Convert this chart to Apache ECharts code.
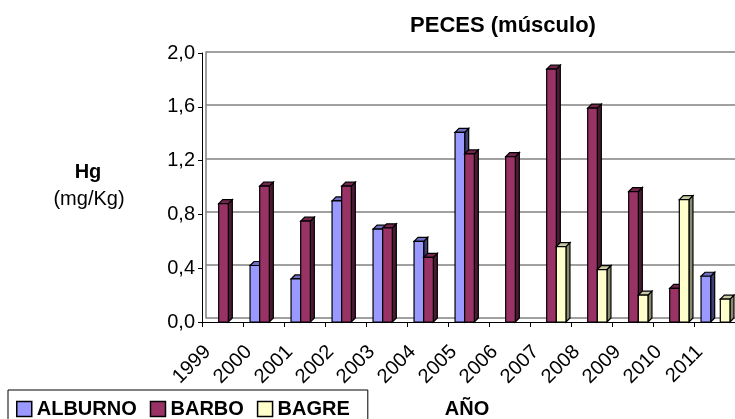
<!DOCTYPE html>
<html>
<head>
<meta charset="utf-8">
<script src="https://cdn.jsdelivr.net/npm/echarts@6/dist/echarts.min.js"></script>
<style>
  html, body { margin: 0; padding: 0; background: #fff; }
  #chart { width: 735px; height: 419px; }
</style>
</head>
<body>
<div id="chart"></div>
<script>
// data
var years = ['1999', '2000', '2001', '2002', '2003', '2004', '2005', '2006', '2007', '2008', '2009', '2010', '2011']
var alburno = [null, 0.42, 0.32, 0.90, 0.69, 0.60, 1.41, null, null, null, null, null, 0.34]
var barbo = [0.88, 1.01, 0.75, 1.01, 0.70, 0.48, 1.25, 1.23, 1.88, 1.59, 0.97, 0.25, null]
var bagre = [null, null, null, null, null, null, null, null, 0.56, 0.39, 0.20, 0.91, 0.17]
var yTicks = [0, 0.4, 0.8, 1.2, 1.6, 2.0]

var font = 'Liberation Sans, Arial, sans-serif'
var fronts = ['#9999ff', '#993366', '#ffffcc']
var sides = ['#3f3f75', '#4a1a33', '#8a8a6e']
var tops = ['#6f6fc4', '#74264d', '#c9c9a2']
var depth = 4

function toPairs(arr) {
  return arr.map(function (v, i) { return [i, v] })
}

// fake 3D bar: side face, top face, then the front
function makeRender(k) {
  return function (params, api) {
    var v = api.value(1)
    if (v == null || isNaN(v)) return
    var base = api.coord([api.value(0), 0])
    var top = api.coord([api.value(0), v])
    var cw = api.size([1, 0])[0]
    var bw = cw * 0.235
    var x0 = base[0] + (k - 1) * bw - bw / 2 + 1
    var yb = base[1], yt = top[1]
    var line = { stroke: '#000', lineWidth: 1.2 }
    return {
      type: 'group',
      children: [
        { type: 'polygon', shape: { points: [[x0 + bw, yt], [x0 + bw + depth, yt - depth], [x0 + bw + depth, yb - depth], [x0 + bw, yb]] },
          style: Object.assign({ fill: sides[k] }, line) },
        { type: 'polygon', shape: { points: [[x0, yt], [x0 + depth, yt - depth], [x0 + bw + depth, yt - depth], [x0 + bw, yt]] },
          style: Object.assign({ fill: tops[k] }, line) },
        { type: 'rect', shape: { x: x0, y: yt, width: bw, height: yb - yt },
          style: Object.assign({ fill: fronts[k] }, line) }
      ]
    }
  }
}

var chart = echarts.init(document.getElementById('chart'))

chart.setOption({
  animation: false,
  textStyle: { fontFamily: font },
  graphic: [
    { type: 'text', x: 503, y: 26, style: { text: 'PECES (músculo)', font: 'bold 22px ' + font, fill: '#000', align: 'center', verticalAlign: 'middle' } },
    { type: 'text', x: 88, y: 172, style: { text: 'Hg', font: 'bold 20px ' + font, fill: '#000', align: 'center', verticalAlign: 'middle' } },
    { type: 'text', x: 89, y: 199, style: { text: '(mg/Kg)', font: '20px ' + font, fill: '#000', align: 'center', verticalAlign: 'middle' } },
    { type: 'text', x: 467, y: 409, style: { text: 'AÑO', font: 'bold 20px ' + font, fill: '#000', align: 'center', verticalAlign: 'middle' } }
  ],
  legend: {
    left: 8,
    top: 390,
    padding: [9, 18, 10, 8],
    itemGap: 13,
    itemWidth: 15,
    itemHeight: 15,
    icon: 'rect',
    borderColor: '#000',
    borderWidth: 1,
    itemStyle: { borderColor: '#000', borderWidth: 1.5 },
    textStyle: { fontFamily: font, fontSize: 20, fontWeight: 'bold', color: '#000' },
    data: ['ALBURNO', 'BARBO', 'BAGRE']
  },
  grid: [
    { left: 202, top: 53, width: 533, bottom: 97 },
    { left: 206, top: 52, width: 533, bottom: 101 }
  ],
  xAxis: [
    {
      type: 'category',
      gridIndex: 0,
      data: years,
      axisLine: { lineStyle: { color: '#000', width: 1 } },
      axisTick: { show: true, length: 5, lineStyle: { color: '#000' } },
      axisLabel: { rotate: 45, margin: 12, padding: [0, 21, 0, 0], color: '#000', fontSize: 20, fontFamily: font, interval: 0 }
    },
    {
      type: 'category',
      gridIndex: 1,
      data: years,
      axisLine: { show: false },
      axisTick: { show: false },
      axisLabel: { show: false }
    }
  ],
  yAxis: [
    {
      type: 'value',
      gridIndex: 0,
      min: 0,
      max: 2,
      interval: 0.4,
      axisLine: { show: true, lineStyle: { color: '#000' } },
      axisTick: { show: true, length: 4, lineStyle: { color: '#000' } },
      splitLine: { show: false },
      axisLabel: {
        color: '#000', fontSize: 20, fontFamily: font, margin: 7,
        formatter: function (v) { return yTicks.indexOf(v) >= 0 ? v.toFixed(1).replace('.', ',') : '' }
      }
    },
    {
      // back wall of the 3D box
      type: 'value',
      gridIndex: 1,
      min: 0,
      max: 2,
      interval: 0.4,
      axisLine: { show: true, lineStyle: { color: '#808080', width: 1.5 } },
      axisTick: { show: false },
      axisLabel: { show: false },
      splitLine: { show: true, lineStyle: { color: '#808080', width: 1.5 } }
    }
  ],
  series: [
    { name: 'ALBURNO', type: 'custom', xAxisIndex: 0, yAxisIndex: 0, itemStyle: { color: fronts[0] },
      renderItem: makeRender(0), encode: { x: 0, y: 1 }, data: toPairs(alburno) },
    { name: 'BARBO', type: 'custom', xAxisIndex: 0, yAxisIndex: 0, itemStyle: { color: fronts[1] },
      renderItem: makeRender(1), encode: { x: 0, y: 1 }, data: toPairs(barbo) },
    { name: 'BAGRE', type: 'custom', xAxisIndex: 0, yAxisIndex: 0, itemStyle: { color: fronts[2] },
      renderItem: makeRender(2), encode: { x: 0, y: 1 }, data: toPairs(bagre) }
  ]
})
</script>
</body>
</html>
